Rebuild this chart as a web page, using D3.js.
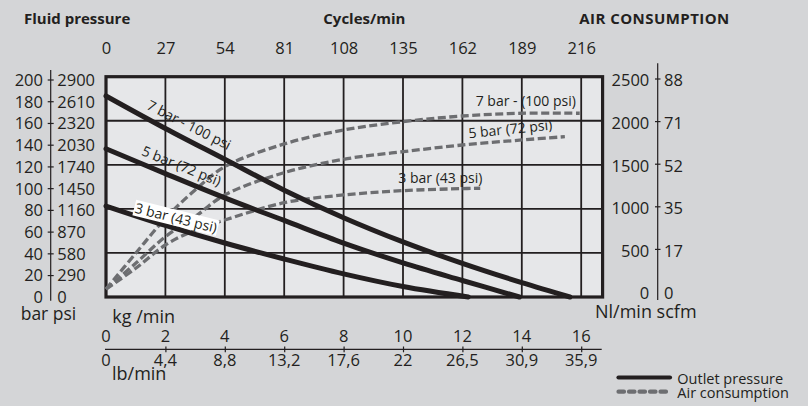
<!DOCTYPE html>
<html><head><meta charset="utf-8">
<script src="https://cdn.jsdelivr.net/npm/d3@7"></script>
<style>
html,body{margin:0;padding:0;background:#d4d5d7;}
svg{display:block;font-family:"Open Sans",sans-serif;}
</style></head><body>
<svg id="c" width="808" height="406"></svg>
<script>
// ---- data ----
const kgTicks = [0,2,4,6,8,10,12,14,16];
const lbLabels = ["0","4,4","8,8","13,2","17,6","22","26,5","30,9","35,9"];
const cycleTicks = [0,27,54,81,108,135,162,189,216];
const barTicks = [0,20,40,60,80,100,120,140,160,180,200];
const psiLabels = ["0","290","580","870","1160","1450","1740","2030","2320","2610","2900"];
const nlTicks = [0,500,1000,1500,2000,2500];
const scfmLabels = ["0","17","35","52","71","88"];
// outlet pressure (kg/min, bar)
const outlet7 = [[0,182.5],[2,153],[4,125],[6,97],[8,72],[10,50],[12,30.5],[14,13],[15.62,0]];
const outlet5 = [[0,134.6],[2,112],[4,90],[6,69.5],[8,49],[10,31],[12,15],[13.92,0]];
const outlet3 = [[0,82.6],[2,65],[4,49],[6,34.5],[8,21],[10,9.5],[12.2,0]];
// air consumption (kg/min, Nl/min)
const air7 = [[0,90],[1,496],[2,893],[3,1214],[4,1479],[6,1737],[8,1895],[10,1990],[12,2054],[14,2085],[15.95,2085]];
const air5 = [[0,90],[1,382],[2,684],[3,911],[4,1158],[6,1411],[8,1563],[10,1649],[12,1725],[14,1782],[15.45,1819]];
const air3 = [[0,90],[1,326],[2,590],[3,760],[4,874],[6,1070],[8,1158],[10,1207],[12,1230],[12.6,1234]];
const pressureLabels = ["7 bar - 100 psi","5 bar (72 psi)","3 bar (43 psi)"];
const airLabels = ["7 bar - (100 psi)","5 bar (72 psi)","3 bar (43 psi)"];

// ---- scales ----
const INK = "#231f20", GREY = "#6d6e71";
const x = d3.scaleLinear().domain([0,16]).range([106,581.2]);
const xMax = 16.72;
const yP = d3.scaleLinear().domain([0,200]).range([297,76.7]);
const yA = d3.scaleLinear().domain([0,2500]).range([297,76.7]);
const yL = d3.scaleLinear().domain([0,200]).range([297.3,80]);
const yR = d3.scaleLinear().domain([0,2500]).range([293.5,80.5]);
const cyc = d3.scaleLinear().domain([0,216]).range([106,581.2]);

const svg = d3.select("#c");
svg.append("rect").attr("width",808).attr("height",406).attr("fill","#d4d5d7");

// plot background
svg.append("rect").attr("x",x(0)).attr("y",yP(200)).attr("width",x(xMax)-x(0)).attr("height",yP(0)-yP(200)).attr("fill","#e6e7e9");

// grid
const grid = svg.append("g").attr("stroke",INK).attr("stroke-width",1.8);
grid.selectAll("line.v").data(kgTicks.filter(d=>d>0)).join("line")
  .attr("x1",d=>x(d)).attr("x2",d=>x(d)).attr("y1",yP(200)).attr("y2",yP(0));
grid.selectAll("line.h").data([40,80,120,160]).join("line")
  .attr("x1",x(0)).attr("x2",x(xMax)).attr("y1",d=>yP(d)).attr("y2",d=>yP(d));
// frame
svg.append("rect").attr("x",x(0)).attr("y",yP(200)).attr("width",x(xMax)-x(0)).attr("height",yP(0)-yP(200))
  .attr("fill","none").attr("stroke",INK).attr("stroke-width",3.2);

// air consumption curves
const lineA = d3.line().x(d=>x(d[0])).y(d=>yA(d[1])).curve(d3.curveCatmullRom.alpha(0.5));
svg.append("g").selectAll("path").data([air7,air5,air3]).join("path")
  .attr("d",lineA).attr("fill","none").attr("stroke",GREY).attr("stroke-width",3.3)
  .attr("stroke-dasharray","8,3.5");

// outlet pressure curves
const lineP = d3.line().x(d=>x(d[0])).y(d=>yP(d[1])).curve(d3.curveCatmullRom.alpha(0.5));
svg.append("g").selectAll("path").data([outlet7,outlet5,outlet3]).join("path")
  .attr("d",lineP).attr("fill","none").attr("stroke",INK).attr("stroke-width",5)
  .attr("stroke-linecap","round").attr("stroke-linejoin","round");

// curve labels (pressure, rotated)
const pLab = [
  {t:pressureLabels[0], cx:189, cy:125, a:27, box:false},
  {t:pressureLabels[1], cx:181.5, cy:166, a:22, box:false},
  {t:pressureLabels[2], cx:176, cy:218, a:14, box:true}
];
pLab.forEach(l=>{
  const g = svg.append("g").attr("transform",`translate(${l.cx},${l.cy}) rotate(${l.a})`);
  const t = g.append("text").attr("text-anchor","middle").attr("dy","0.35em")
    .attr("font-size",14).attr("fill",INK).text(l.t);
  if(l.box){
    const b = t.node().getBBox();
    g.insert("rect","text").attr("x",b.x-1).attr("y",b.y+2).attr("width",b.width+2).attr("height",b.height-3).attr("fill","#ffffff");
  }
});
// air labels
svg.append("text").attr("x",475.7).attr("y",106).attr("font-size",14).attr("fill",INK).text(airLabels[0]);
svg.append("text").attr("transform","translate(469,138.3) rotate(-6)").attr("font-size",14).attr("fill",INK).text(airLabels[1]);
svg.append("text").attr("x",398.3).attr("y",183.3).attr("font-size",14).attr("fill",INK).text(airLabels[2]);

// headers
const hdr = svg.append("g").attr("font-weight","bold").attr("font-size",15).attr("fill",INK);
hdr.append("text").attr("x",24).attr("y",24).text("Fluid pressure");
hdr.append("text").attr("x",323.3).attr("y",24).text("Cycles/min");
hdr.append("text").attr("x",579.3).attr("y",24).attr("textLength",150).attr("lengthAdjust","spacing").text("AIR CONSUMPTION");

// top axis (cycles/min)
const topAxis = svg.append("g").attr("transform","translate(0,54.3)")
  .call(d3.axisTop(cyc).tickValues(cycleTicks).tickSize(0).tickPadding(0).tickFormat(d3.format("d")));
topAxis.select(".domain").remove();
topAxis.selectAll("text").attr("font-size",16.5).attr("fill",INK).attr("font-family","Open Sans");

const TF = 16.5;
// left axis (bar / psi)
const left = svg.append("g");
left.append("line").attr("x1",50.7).attr("x2",50.7).attr("y1",70).attr("y2",300.7).attr("stroke",INK).attr("stroke-width",1.2);
left.selectAll("line.t").data(barTicks.filter(d=>d>0)).join("line").attr("class","t")
  .attr("x1",47.7).attr("x2",53.7).attr("y1",d=>yL(d)).attr("y2",d=>yL(d)).attr("stroke",INK).attr("stroke-width",1.2);
left.selectAll("text.b").data(barTicks).join("text").attr("class","b")
  .attr("x",43).attr("y",d=>yL(d)+5.9).attr("text-anchor","end").attr("font-size",TF).attr("fill",INK).text(d=>d);
left.selectAll("text.p").data(barTicks).join("text").attr("class","p")
  .attr("x",57.3).attr("y",d=>yL(d)+5.9).attr("font-size",TF).attr("fill",INK).text((d,i)=>psiLabels[i]);
svg.append("text").attr("x",20.7).attr("y",319.8).attr("font-size",17.5).attr("fill",INK).text("bar psi");

// right axis (Nl/min / scfm)
const right = svg.append("g");
right.append("line").attr("x1",657.7).attr("x2",657.7).attr("y1",63.3).attr("y2",300).attr("stroke",INK).attr("stroke-width",1.2);
right.selectAll("line.t").data(nlTicks.filter(d=>d>0)).join("line").attr("class","t")
  .attr("x1",655).attr("x2",660.5).attr("y1",d=>yR(d)-1.5).attr("y2",d=>yR(d)-1.5).attr("stroke",INK).attr("stroke-width",1.2);
right.selectAll("text.n").data(nlTicks).join("text").attr("class","n")
  .attr("x",649.3).attr("y",d=>yR(d)+5.9).attr("text-anchor","end").attr("font-size",TF).attr("fill",INK).text(d=>d);
right.selectAll("text.s").data(nlTicks).join("text").attr("class","s")
  .attr("x",664).attr("y",d=>yR(d)+5.9).attr("font-size",TF).attr("fill",INK).text((d,i)=>scfmLabels[i]);
svg.append("text").attr("x",595).attr("y",318.3).attr("font-size",18).attr("fill",INK).text("Nl/min scfm");

// bottom axis (kg/min, lb/min)
const bot = svg.append("g");
bot.append("line").attr("x1",105).attr("x2",601.7).attr("y1",349.3).attr("y2",349.3).attr("stroke",INK).attr("stroke-width",1.2);
bot.selectAll("line.t").data(kgTicks.filter(d=>d>0)).join("line").attr("class","t")
  .attr("x1",d=>x(d)+0.5).attr("x2",d=>x(d)+0.5).attr("y1",346.5).attr("y2",352.3).attr("stroke",INK).attr("stroke-width",1.2);
bot.selectAll("text.k").data(kgTicks).join("text").attr("class","k")
  .attr("x",d=>x(d)).attr("y",342.3).attr("text-anchor","middle").attr("font-size",TF).attr("fill",INK).text(d=>d);
bot.selectAll("text.l").data(kgTicks).join("text").attr("class","l")
  .attr("x",d=>x(d)).attr("y",366).attr("text-anchor","middle").attr("font-size",TF).attr("fill",INK).text((d,i)=>lbLabels[i]);
svg.append("text").attr("x",112.3).attr("y",323.3).attr("font-size",18).attr("fill",INK).text("kg /min");
svg.append("text").attr("x",112).attr("y",380).attr("font-size",18).attr("fill",INK).text("lb/min");

// legend
const lg = svg.append("g");
lg.append("line").attr("x1",618.5).attr("x2",670).attr("y1",377.5).attr("y2",377.5)
  .attr("stroke",INK).attr("stroke-width",4.2).attr("stroke-linecap","round");
lg.append("line").attr("x1",618.5).attr("x2",670).attr("y1",391.7).attr("y2",391.7)
  .attr("stroke",GREY).attr("stroke-width",4.2).attr("stroke-linecap","round").attr("stroke-dasharray","5.5,5");
lg.append("text").attr("x",677.3).attr("y",383.5).attr("font-size",14.5).attr("fill",INK).text("Outlet pressure");
lg.append("text").attr("x",677.3).attr("y",397.5).attr("font-size",14.5).attr("fill",INK).text("Air consumption");
</script>
</body></html>
